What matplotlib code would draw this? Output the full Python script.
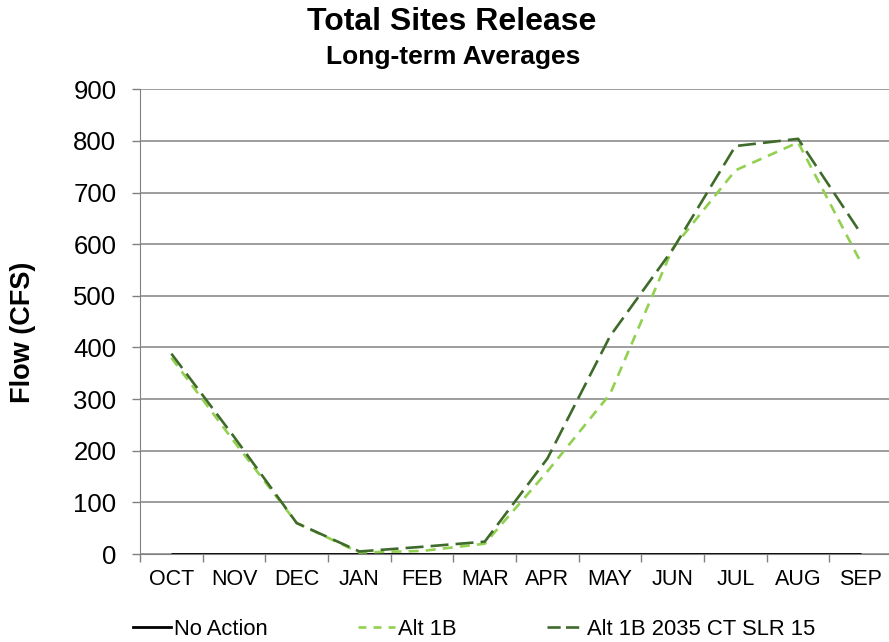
import matplotlib
matplotlib.use("Agg")
import matplotlib.pyplot as plt
from matplotlib.lines import Line2D

plt.rcParams['font.family'] = ['Liberation Sans', 'DejaVu Sans']

months = ["OCT", "NOV", "DEC", "JAN", "FEB", "MAR", "APR", "MAY", "JUN", "JUL", "AUG", "SEP"]
no_action = [0, 0, 0, 0, 0, 0, 0, 0, 0, 0, 0, 0]
alt_1b = [380, 218, 60, 3, 6, 20, 160, 310, 592, 743, 797, 565]
alt_1b_2035 = [388, 227, 60, 5, 14, 24, 185, 422, 590, 790, 804, 621]
y_ticks = [0, 100, 200, 300, 400, 500, 600, 700, 800, 900]

light_green = "#92D050"
dark_green = "#3F6B2A"

fig = plt.figure(figsize=(8.89, 6.42), dpi=100)
ax = fig.add_axes([0.1575, 0.137, 0.8425, 0.724])

x = list(range(len(months)))
ax.plot(x, no_action, color="black", lw=2.0, solid_capstyle="butt", zorder=3)
ax.plot(x, alt_1b, color=light_green, lw=1.9, dashes=(3.8, 2.7), zorder=4)
ax.plot(x, alt_1b_2035, color=dark_green, lw=1.9, dashes=(6.8, 2.7), zorder=5)

ax.set_xlim(-0.47, 11.45)
ax.set_ylim(0, 900)
ax.set_yticks(y_ticks)
ax.set_yticklabels([str(v) for v in y_ticks], fontsize=18.5)
ax.set_xticks(x)
ax.set_xticklabels(months, fontsize=15.5)
ax.set_xticks([i + 0.5 for i in range(-1, 11)], minor=True)
ax.tick_params(axis="x", which="major", length=0, pad=11)
ax.tick_params(axis="x", which="minor", length=6, color="#808080", width=1)
ax.tick_params(axis="y", length=6, color="#808080", width=1, pad=11)

ax.grid(axis="y", color="#8c8c8c", lw=1.2)
ax.set_axisbelow(True)
for side in ("top", "right"):
    ax.spines[side].set_visible(False)
ax.spines["left"].set_color("#808080")
ax.spines["bottom"].set_color("#808080")

fig.text(0.026, 0.483, "Flow (CFS)", rotation=90, ha="center", va="center",
         fontsize=19.5, fontweight="bold")

fig.text(0.508, 0.966, "Total Sites Release", ha="center", va="center",
         fontsize=23, fontweight="bold")
fig.text(0.51, 0.911, "Long-term Averages", ha="center", va="center",
         fontsize=19, fontweight="bold")

handles = [
    Line2D([], [], color="black", lw=2.0),
    Line2D([], [], color=light_green, lw=1.9, dashes=(3.0, 2.7)),
    Line2D([], [], color=dark_green, lw=1.9, dashes=(5.0, 2.0)),
]
labels = ["No Action", "Alt 1B", "Alt 1B 2035 CT SLR 15"]
fig.legend(handles, labels, loc="center left", bbox_to_anchor=(0.15, 0.02),
           ncol=3, frameon=False, fontsize=15.8, handlelength=1.7,
           handletextpad=0.15, columnspacing=4.1, borderpad=0, borderaxespad=0)

fig.savefig("out.png", dpi=100)
